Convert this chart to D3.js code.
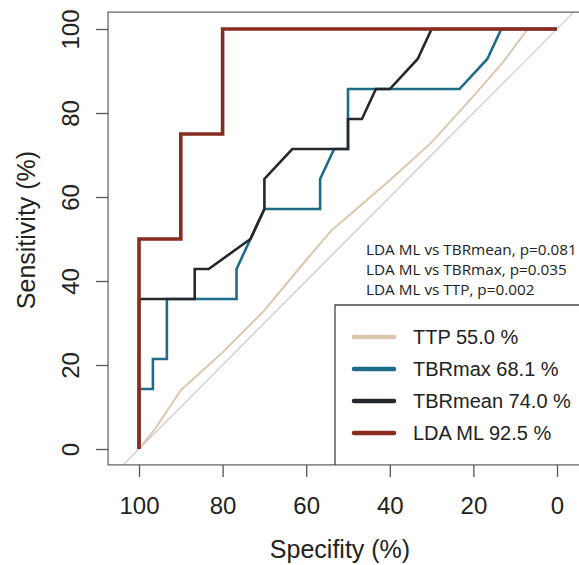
<!DOCTYPE html>
<html>
<head>
<meta charset="utf-8">
<script src="https://cdn.jsdelivr.net/npm/d3@7"></script>
<style>
  html, body { margin: 0; background: #fff; overflow: hidden; }
  svg { display: block; }
  .tick text { font-family: "Liberation Sans", Arial, sans-serif; font-size: 24px; fill: #222; }
</style>
</head>
<body>
<svg id="chart" width="579" height="565"></svg>
<script>
// ROC curves: specificity (%) vs sensitivity (%)
var specTicks = [100, 80, 60, 40, 20, 0];
var sensTicks = [0, 20, 40, 60, 80, 100];

var ttpSpec = [100, 96, 90, 80, 70, 60, 54, 47, 40, 30, 20, 13, 7, 0];
var ttpSens = [0, 5, 14, 23, 33, 45, 52, 58, 64, 73, 84, 92, 100, 100];

var tbrmaxSpec = [100, 100, 96.67, 96.67, 93.33, 93.33, 76.67, 76.67, 73.33, 70, 56.67, 56.67, 53.33, 50, 50, 23.33, 16.67, 13.33, 0];
var tbrmaxSens = [0, 14.29, 14.29, 21.43, 21.43, 35.71, 35.71, 42.86, 50, 57.14, 57.14, 64.29, 71.43, 71.43, 85.71, 85.71, 92.86, 100, 100];

var tbrmeanSpec = [100, 100, 86.67, 86.67, 83.33, 73.33, 70, 70, 63.33, 50, 50, 46.67, 43.33, 40, 33.33, 30, 0];
var tbrmeanSens = [0, 35.71, 35.71, 42.86, 42.86, 50, 57.14, 64.29, 71.43, 71.43, 78.57, 78.57, 85.71, 85.71, 92.86, 100, 100];

var ldaSpec = [100, 100, 90, 90, 80, 80, 0];
var ldaSens = [0, 50, 50, 75, 75, 100, 100];

var seriesNames = ["TTP", "TBRmax", "TBRmean", "LDA ML"];
var seriesAUC = ["55.0", "68.1", "74.0", "92.5"];
var seriesColors = ["#dbc7ab", "#1f6c88", "#25282b", "#892b1f"];
var seriesWidths = [2, 2.6, 2.6, 3.6];

var pvalueLines = [
  "LDA ML vs TBRmean, p=0.081",
  "LDA ML vs TBRmax, p=0.035",
  "LDA ML vs TTP, p=0.002"
];

function zip(sp, se) {
  return sp.map(function(s, i) { return {spec: s, sens: se[i]}; });
}
var curves = [
  zip(ttpSpec, ttpSens),
  zip(tbrmaxSpec, tbrmaxSens),
  zip(tbrmeanSpec, tbrmeanSens),
  zip(ldaSpec, ldaSens)
];

var svg = d3.select("#chart");

var x = d3.scaleLinear().domain([100, 0]).range([139, 557]);
var y = d3.scaleLinear().domain([0, 100]).range([449, 29]);

// plot region limits (in data units); right side runs past the page edge
var xMin = 107.4, xMax = -9, yMin = -3.8, yMax = 104;

svg.append("clipPath").attr("id", "plotclip")
  .append("rect")
  .attr("x", x(xMin)).attr("y", y(yMax))
  .attr("width", x(xMax) - x(xMin)).attr("height", y(yMin) - y(yMax));

var plot = svg.append("g").attr("clip-path", "url(#plotclip)");

// chance diagonal
plot.append("line")
  .attr("x1", x(100 - yMin)).attr("y1", y(yMin))
  .attr("x2", x(100 - yMax)).attr("y2", y(yMax))
  .style("stroke", "#c9c9c9")
  .style("stroke-width", 1.2);

var line = d3.line()
  .x(function(d) { return x(d.spec); })
  .y(function(d) { return y(d.sens); });

plot.selectAll("path.roc")
  .data(curves)
  .enter().append("path")
  .attr("class", "roc")
  .attr("d", line)
  .style("fill", "none")
  .style("stroke", function(d, i) { return seriesColors[i]; })
  .style("stroke-width", function(d, i) { return seriesWidths[i]; });

// box (open on the right, it is cut by the page edge)
svg.append("path")
  .attr("d", "M" + x(xMax) + "," + y(yMax) + "H" + x(xMin) + "V" + y(yMin) + "H" + x(xMax))
  .style("fill", "none")
  .style("stroke", "#666")
  .style("stroke-width", 1.3);

// x axis
var xAxis = svg.append("g")
  .attr("transform", "translate(0," + y(yMin) + ")")
  .call(d3.axisBottom(x).tickValues(specTicks).tickSize(12).tickPadding(20));
xAxis.select(".domain").remove();
xAxis.selectAll(".tick line").style("stroke", "#555").style("stroke-width", 1.3);

// y axis, labels rotated like base R
var yAxis = svg.append("g")
  .attr("transform", "translate(" + x(xMin) + ",0)")
  .call(d3.axisLeft(y).tickValues(sensTicks).tickSize(12));
yAxis.select(".domain").remove();
yAxis.selectAll(".tick line").style("stroke", "#555").style("stroke-width", 1.3);
yAxis.selectAll(".tick text")
  .attr("x", null).attr("dy", null)
  .attr("text-anchor", "middle")
  .attr("transform", "translate(-29,0) rotate(-90)");

// axis titles
svg.append("text")
  .attr("x", 340).attr("y", 558)
  .attr("text-anchor", "middle")
  .style("font-family", "Liberation Sans, Arial, sans-serif")
  .style("font-size", "25px")
  .style("fill", "#222")
  .text("Specifity (%)");

svg.append("text")
  .attr("transform", "translate(35,230) rotate(-90)")
  .attr("text-anchor", "middle")
  .style("font-family", "Liberation Sans, Arial, sans-serif")
  .style("font-size", "25px")
  .style("fill", "#222")
  .text("Sensitivity (%)");

// p-value notes
svg.selectAll("text.pval")
  .data(pvalueLines)
  .enter().append("text")
  .attr("class", "pval")
  .attr("x", 366)
  .attr("y", function(d, i) { return 255 + i * 20; })
  .style("font-family", "Open Sans, sans-serif")
  .style("font-size", "15.3px")
  .style("fill", "#222")
  .text(function(d) { return d; });

// legend (also cut by the page edge)
var legend = svg.append("g");
legend.append("path")
  .attr("d", "M" + x(xMax) + ",305H335V" + y(yMin))
  .style("fill", "none")
  .style("stroke", "#444")
  .style("stroke-width", 1.3);

var items = legend.selectAll("g.item")
  .data(seriesNames)
  .enter().append("g")
  .attr("class", "item")
  .attr("transform", function(d, i) { return "translate(0," + (337 + i * 32) + ")"; });

items.append("line")
  .attr("x1", 354).attr("x2", 394)
  .style("stroke", function(d, i) { return seriesColors[i]; })
  .style("stroke-width", 4.5)
  .style("stroke-linecap", "round");

items.append("text")
  .attr("x", 413).attr("y", 7)
  .style("font-family", "Liberation Sans, Arial, sans-serif")
  .style("font-size", "20px")
  .style("fill", "#222")
  .text(function(d, i) { return d + " " + seriesAUC[i] + " %"; });
</script>
</body>
</html>
